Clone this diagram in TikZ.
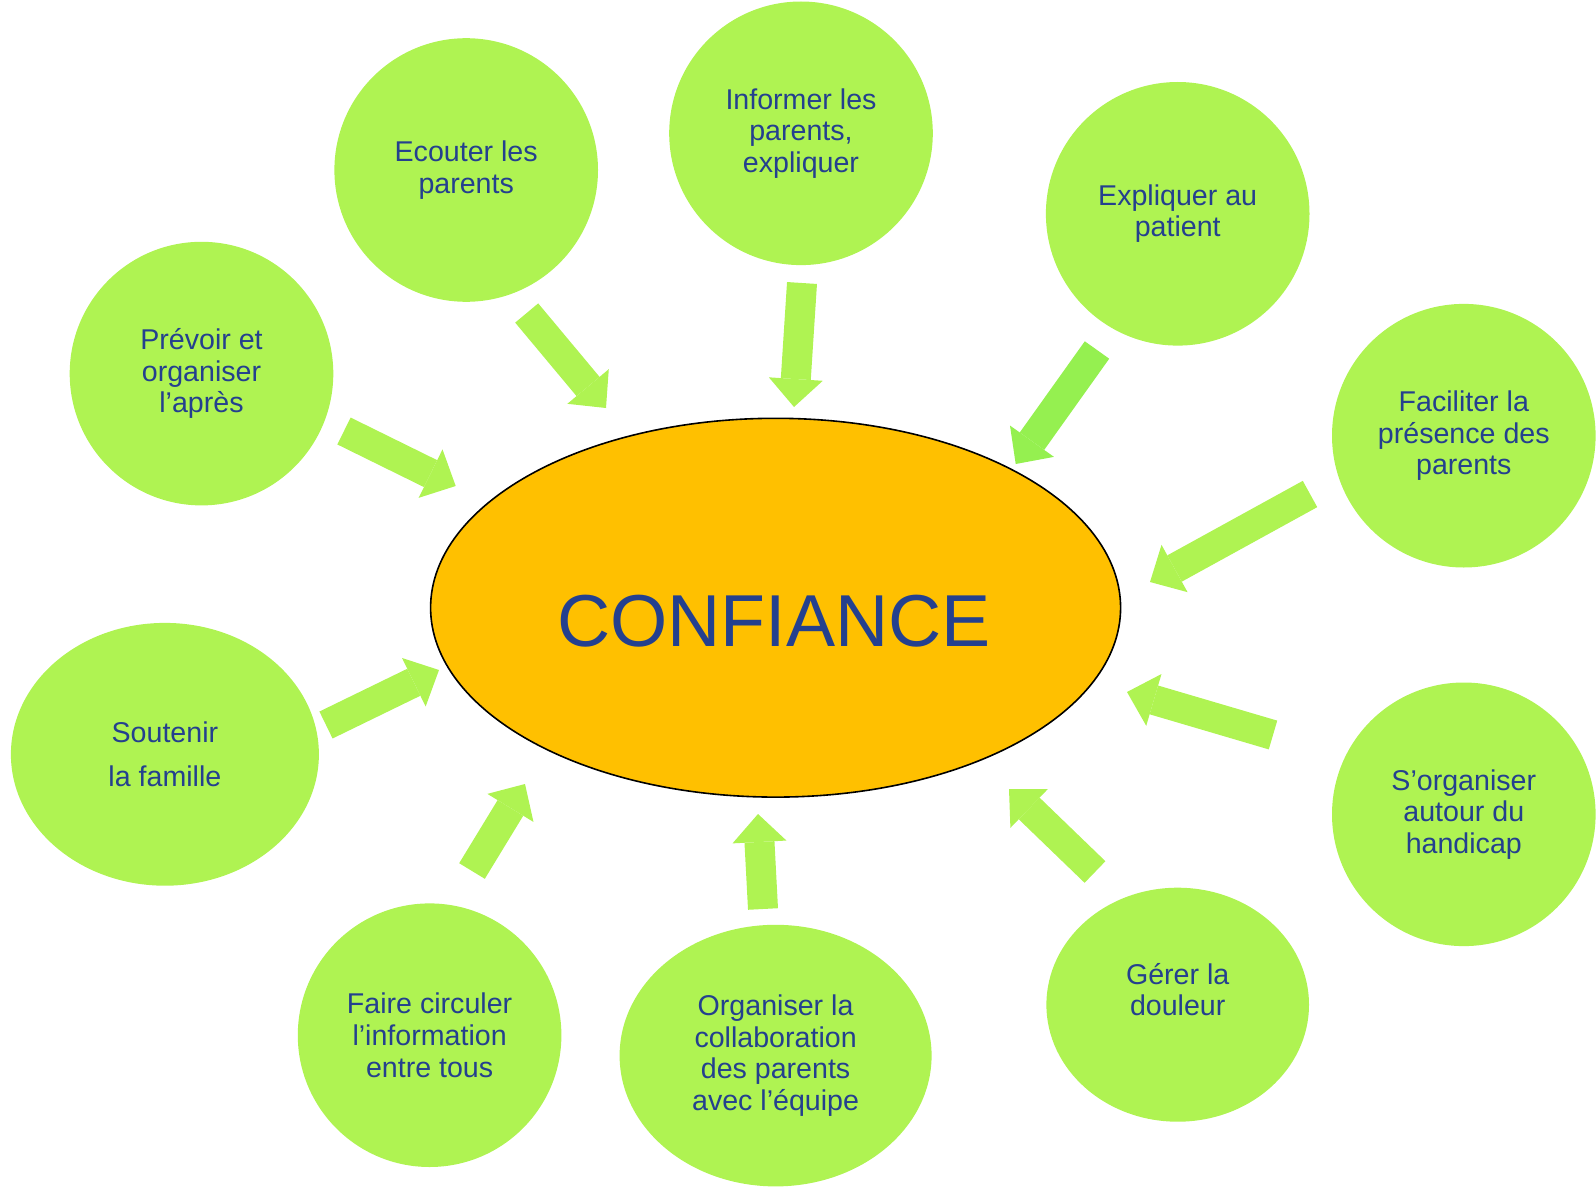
\documentclass[tikz,border=0pt]{standalone}
\usepackage{fontspec}
\setmainfont{Liberation Sans}
\usetikzlibrary{arrows.meta,shapes.geometric}
\definecolor{bubble}{HTML}{AFF352}
\definecolor{bubbletwo}{HTML}{95F050}
\definecolor{txtblue}{HTML}{24408E}
\definecolor{conforange}{HTML}{FFC000}
\tikzset{
  bubblenode/.style={circle, fill=bubble, minimum size=131.8pt, inner sep=0pt,
    align=center, text=txtblue, font=\fontsize{14.3}{15.8}\selectfont},
  ovalnode/.style={ellipse, fill=bubble, inner sep=0pt,
    align=center, text=txtblue, font=\fontsize{14.3}{15.8}\selectfont},
  blockarrow/.style={line width=15pt, draw=bubble,
    -{Triangle[width=27pt,length=14pt,line width=0pt,fill=bubble]}},
}
\begin{document}
\begin{tikzpicture}[x=0.5pt,y=-0.5pt]
\useasboundingbox (0,0) rectangle (1596,1188);
% central ellipse
\node[ellipse, draw=black, line width=0.8pt, fill=conforange, minimum width=345pt,
  minimum height=189.4pt, inner sep=0pt] (conf) at (775.6,607.7) {};
\node[text=txtblue, font=\fontsize{36.8}{40}\selectfont] (conftext) at (774,621) {CONFIANCE};
% bubbles
\node[bubblenode] (prevoir) at (201.5,373.6) {Prévoir et\\organiser\\l’après};
\node[bubblenode] (ecouter) at (466.2,170) {Ecouter les\\parents};
\node[bubblenode] (informer) at (801,133.3) {Informer les\\parents,\\expliquer};
\node[bubblenode] (expliquer) at (1177.7,213.8) {Expliquer au\\patient};
\node[bubblenode] (faciliter) at (1463.8,435.7) {Faciliter la\\présence des\\parents};
\node[bubblenode] (sorg) at (1463.8,814.3) {S’organiser\\autour du\\handicap};
\node[ovalnode, minimum width=131.3pt, minimum height=117pt] (gerer) at (1177.7,1004.7) {};
\node[text=txtblue, align=center, font=\fontsize{14.3}{15.8}\selectfont] (gerertext) at (1177.7,989.5) {Gérer la\\douleur};
\node[ovalnode, minimum width=156pt, minimum height=130.8pt] (collab) at (775.6,1055.6) {Organiser la\\collaboration\\des parents\\avec l’équipe};
\node[bubblenode] (faire) at (429.6,1035.2) {Faire circuler\\l’information\\entre tous};
\node[ovalnode, minimum width=154pt, minimum height=131.4pt] (soutenir) at (164.9,754.3) {Soutenir\\[6pt]la famille};
% arrow end points
\coordinate (a1s) at (344,431);   \coordinate (a1t) at (455.7,486);
\coordinate (a2s) at (526.7,313); \coordinate (a2t) at (606,408);
\coordinate (a3s) at (802,283);   \coordinate (a3t) at (794,407);
\coordinate (a4s) at (1097,350);  \coordinate (a4t) at (1015.7,464);
\coordinate (a5s) at (1310,494);  \coordinate (a5t) at (1150,582);
\coordinate (a6s) at (1273,735);  \coordinate (a6t) at (1127,692);
\coordinate (a7s) at (1095,872);  \coordinate (a7t) at (1009,789);
\coordinate (a8s) at (763,909);   \coordinate (a8t) at (758,814);
\coordinate (a9s) at (472,871);   \coordinate (a9t) at (525,784);
\coordinate (a10s) at (326,725);  \coordinate (a10t) at (439,670);
% arrows
\draw[blockarrow] (a1s) -- (a1t);
\draw[blockarrow] (a2s) -- (a2t);
\draw[blockarrow] (a3s) -- (a3t);
\draw[blockarrow, draw=bubbletwo, -{Triangle[width=27pt,length=14pt,line width=0pt,fill=bubbletwo]}] (a4s) -- (a4t);
\draw[blockarrow] (a5s) -- (a5t);
\draw[blockarrow] (a6s) -- (a6t);
\draw[blockarrow] (a7s) -- (a7t);
\draw[blockarrow] (a8s) -- (a8t);
\draw[blockarrow] (a9s) -- (a9t);
\draw[blockarrow] (a10s) -- (a10t);
\end{tikzpicture}
\end{document}
